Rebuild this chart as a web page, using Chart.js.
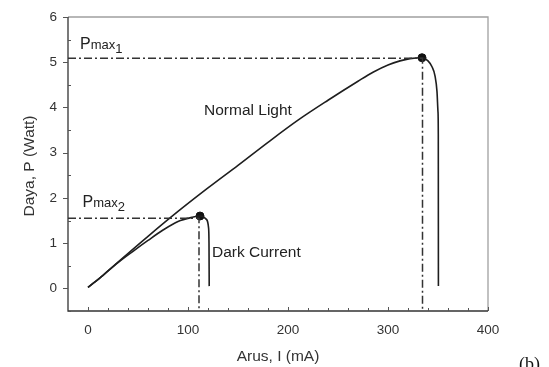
<!DOCTYPE html>
<html><head><meta charset="utf-8">
<script src="https://cdn.jsdelivr.net/npm/chart.js@4.4.1/dist/chart.umd.min.js"></script>
<style>html,body{margin:0;padding:0;background:#fff}#wrap{width:549px;height:367px;position:relative}</style>
</head><body><div id="wrap"><canvas id="c" width="549" height="367"></canvas></div>
<script>
// Data
const normalI = [0, 15, 30, 60, 90, 120, 150, 180, 210, 240, 270, 285, 300, 312, 322, 334, 340, 344, 347, 349, 350, 350.3, 350.4];
const normalP = [0.02, 0.29, 0.58, 1.15, 1.7, 2.22, 2.72, 3.23, 3.72, 4.16, 4.58, 4.78, 4.94, 5.03, 5.08, 5.1, 5.03, 4.9, 4.7, 4.35, 3.9, 3.4, 0.05];
const darkI = [0, 15, 30, 45, 60, 75, 90, 104, 112, 118.7, 120.5, 121, 121.2];
const darkP = [0.02, 0.29, 0.57, 0.82, 1.06, 1.29, 1.48, 1.57, 1.6, 1.52, 1.35, 1.0, 0.05];
const pmax1 = [334.5, 5.09];
const pmax2 = [111, 1.55];
const peaks = [[334, 5.1], [112, 1.6]];
const xTicks = [0, 100, 200, 300, 400];
const yTicks = [0, 1, 2, 3, 4, 5, 6];
const xRange = [-20, 400];
const yRange = [-0.5, 6];

const zip = (a, b) => a.map((v, i) => ({x: v, y: b[i]}));
const refLine = p => [{x: xRange[0], y: p[1]}, {x: p[0], y: p[1]}, {x: p[0], y: yRange[0]}];
const INK = '#1e1e1e';
const DASH = [8, 3, 2, 3];
const SANS = '"Liberation Sans", Arial, sans-serif';

const decor = {
  id: 'decor',
  afterDraw(chart) {
    const {ctx, chartArea: a, scales: {x, y}} = chart;
    ctx.save();
    // frame
    ctx.lineWidth = 1.3;
    ctx.strokeStyle = '#a0a0a0';
    ctx.beginPath();
    ctx.moveTo(a.left, a.top); ctx.lineTo(a.right, a.top); ctx.lineTo(a.right, a.bottom);
    ctx.stroke();
    ctx.strokeStyle = '#333';
    ctx.beginPath();
    ctx.moveTo(a.left, a.top); ctx.lineTo(a.left, a.bottom); ctx.lineTo(a.right, a.bottom);
    ctx.stroke();
    // ticks
    ctx.lineWidth = 1;
    ctx.strokeStyle = '#555';
    ctx.beginPath();
    for (let v = 0; v <= 400; v += 20) {
      const px = Math.round(x.getPixelForValue(v)) + 0.5;
      const len = (v % 100 === 0) ? 4 : 3;
      ctx.moveTo(px, a.bottom); ctx.lineTo(px, a.bottom - len);
    }
    for (let v = -0.5; v <= 6.001; v += 0.5) {
      const py = Math.round(y.getPixelForValue(v)) + 0.5;
      if (Math.abs(v - Math.round(v)) < 1e-6) { ctx.moveTo(a.left, py); ctx.lineTo(a.left - 5, py); }
      else { ctx.moveTo(a.left, py); ctx.lineTo(a.left + 3, py); }
    }
    ctx.stroke();
    // tick labels
    ctx.fillStyle = '#333';
    ctx.font = '13.5px ' + SANS;
    ctx.textAlign = 'center'; ctx.textBaseline = 'middle';
    xTicks.forEach(v => ctx.fillText(String(v), x.getPixelForValue(v), a.bottom + 19));
    ctx.textAlign = 'right';
    yTicks.forEach(v => ctx.fillText(String(v), a.left - 11, y.getPixelForValue(v)));
    // axis titles
    ctx.font = '15.5px ' + SANS;
    ctx.textAlign = 'center'; ctx.textBaseline = 'alphabetic';
    ctx.fillText('Arus, I (mA)', 278, 361);
    ctx.save();
    ctx.translate(34, 166);
    ctx.rotate(-Math.PI / 2);
    ctx.fillText('Daya, P (Watt)', 0, 0);
    ctx.restore();
    // annotations
    ctx.textAlign = 'left';
    ctx.fillStyle = '#222';
    const pmax = (px, py, sub) => {
      ctx.font = '16px ' + SANS;
      ctx.fillText('P', px, py);
      let w = ctx.measureText('P').width;
      ctx.font = '13px ' + SANS;
      ctx.fillText('max', px + w, py);
      w += ctx.measureText('max').width;
      ctx.font = '13px ' + SANS;
      ctx.fillText(sub, px + w, py + 4);
    };
    pmax(80, 49, '1');
    pmax(82.5, 207, '2');
    ctx.font = '15.5px ' + SANS;
    ctx.fillText('Normal Light', 204, 115);
    ctx.fillText('Dark Current', 212, 257);
    ctx.font = '18px "Liberation Serif", "Times New Roman", serif';
    ctx.fillStyle = '#111';
    ctx.fillText('(b)', 519, 370);
    ctx.restore();
  }
};

new Chart(document.getElementById('c'), {
  type: 'scatter',
  data: {
    datasets: [
      {data: refLine(pmax1), showLine: true, borderColor: '#333', borderWidth: 1.5, borderDash: DASH, pointRadius: 0, tension: 0},
      {data: refLine(pmax2), showLine: true, borderColor: '#333', borderWidth: 1.5, borderDash: DASH, pointRadius: 0, tension: 0},
      {data: zip(normalI, normalP), showLine: true, borderColor: INK, borderWidth: 1.6, pointRadius: 0, cubicInterpolationMode: 'monotone'},
      {data: zip(darkI, darkP), showLine: true, borderColor: INK, borderWidth: 1.6, pointRadius: 0, cubicInterpolationMode: 'monotone'},
      {data: peaks.map(p => ({x: p[0], y: p[1]})), showLine: false, pointRadius: 4, backgroundColor: '#111', borderColor: '#111'}
    ]
  },
  options: {
    responsive: false, animation: false, devicePixelRatio: 1,
    layout: {padding: {left: 68, right: 61, top: 17, bottom: 56}},
    plugins: {legend: {display: false}, tooltip: {enabled: false}},
    scales: {
      x: {type: 'linear', min: xRange[0], max: xRange[1], display: false},
      y: {type: 'linear', min: yRange[0], max: yRange[1], display: false}
    }
  },
  plugins: [decor]
});
</script></body></html>
